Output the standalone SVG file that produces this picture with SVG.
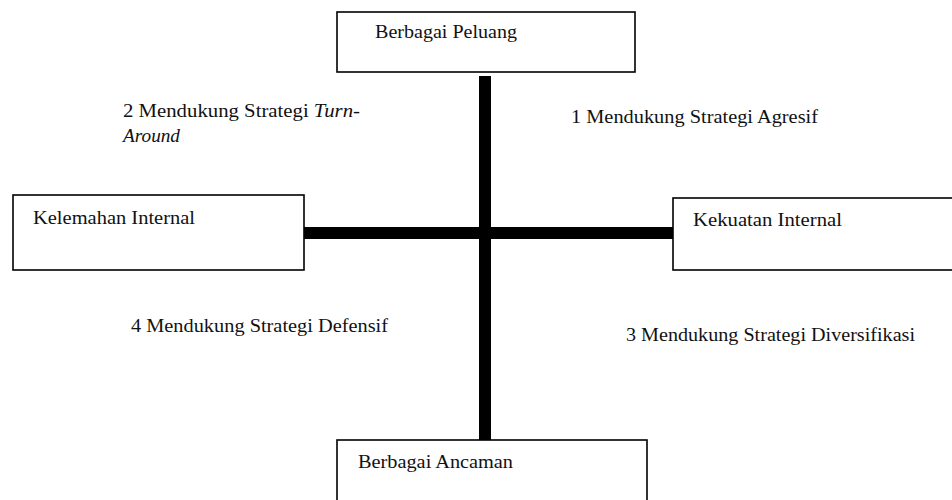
<svg xmlns="http://www.w3.org/2000/svg" width="952" height="500" viewBox="0 0 952 500">
<style>
.box{fill:#fff;stroke:#000;stroke-width:1.6}
.t{font-family:"Liberation Serif","DejaVu Serif",serif;font-size:18.5px;fill:#111}
.bar{fill:#000}
</style>
<rect width="952" height="500" fill="#fff"/>
<g id="connectors">
<rect class="bar" x="479" y="76" width="12" height="364"/>
<rect class="bar" x="304" y="227" width="369" height="12"/>
</g>
<g id="peluang">
<rect class="box" x="337" y="12" width="298" height="60"/>
<text class="t" x="375" y="38" textLength="142" lengthAdjust="spacingAndGlyphs">Berbagai Peluang</text>
</g>
<g id="kelemahan">
<rect class="box" x="13" y="195" width="291" height="75"/>
<text class="t" x="33" y="224" textLength="162" lengthAdjust="spacingAndGlyphs">Kelemahan Internal</text>
</g>
<g id="kekuatan">
<rect class="box" x="673" y="198" width="290" height="72"/>
<text class="t" x="693" y="226" textLength="149" lengthAdjust="spacingAndGlyphs">Kekuatan Internal</text>
</g>
<g id="ancaman">
<rect class="box" x="337" y="440" width="310" height="70"/>
<text class="t" x="358" y="468" textLength="155" lengthAdjust="spacingAndGlyphs">Berbagai Ancaman</text>
</g>
<g id="labels">
<text class="t" x="123" y="117" textLength="237" lengthAdjust="spacingAndGlyphs">2 Mendukung  Strategi <tspan font-style="italic">Turn-</tspan></text>
<text class="t" x="123" y="142" font-style="italic" textLength="57" lengthAdjust="spacingAndGlyphs">Around</text>
<text class="t" x="571" y="123" textLength="247" lengthAdjust="spacingAndGlyphs">1 Mendukung Strategi Agresif</text>
<text class="t" x="131" y="332" textLength="257" lengthAdjust="spacingAndGlyphs">4 Mendukung Strategi Defensif</text>
<text class="t" x="626" y="341" textLength="289" lengthAdjust="spacingAndGlyphs">3 Mendukung Strategi Diversifikasi</text>
</g>
</svg>
